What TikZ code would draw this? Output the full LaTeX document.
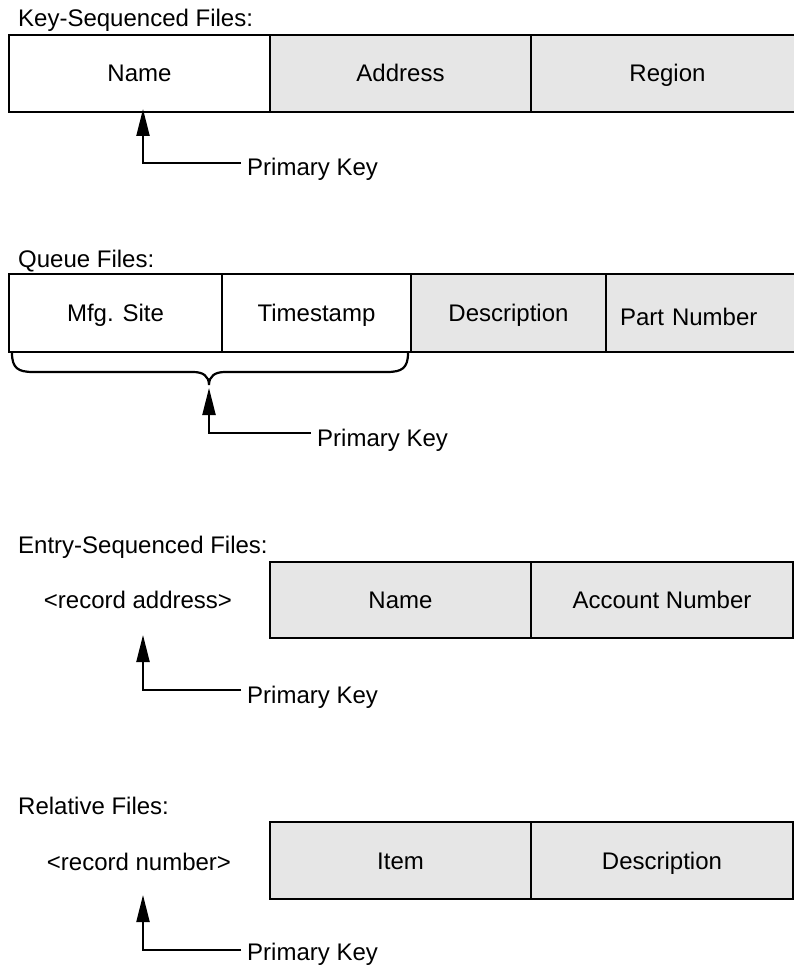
\documentclass[tikz,border=0pt]{standalone}
\usepackage{fontspec}
\setmainfont{Liberation Sans}
\usetikzlibrary{arrows.meta}
\definecolor{cellgray}{HTML}{E6E6E6}
\tikzset{
  x=1pt, y=-1pt,
  every node/.style={font=\fontsize{24}{28}\selectfont},
  cell/.style={draw, line width=2.2pt, inner sep=0pt, outer sep=0pt,
    anchor=north west, text height=17pt, text depth=0pt},
  keycell/.style={cell, fill=white},
  datacell/.style={cell, fill=cellgray},
  caption/.style={anchor=base west, inner sep=0pt},
  recid/.style={anchor=base, inner sep=0pt},
  keylabel/.style={anchor=base west, inner sep=0pt},
  keyarrow/.style={line width=2.2pt, shorten <=6pt,
    -{Triangle[length=27pt,width=13pt]}},
  brace/.style={line width=2.2pt, line cap=round}
}
\begin{document}
\begin{tikzpicture}
\useasboundingbox (0,0) rectangle (793,968);

% ---- Key-sequenced files ----
\node[caption] (kstitle) at (18,27) {Key-Sequenced Files:};
\node[keycell,  minimum width=261pt, minimum height=77pt] (ks1) at (9,35) {Name};
\node[datacell, minimum width=261pt, minimum height=77pt] (ks2) at (270,35) {Address};
\node[datacell, minimum width=273pt, minimum height=77pt] (ks3) at (531,35) {Region};
\coordinate (kstip) at (143,109);
\coordinate (ksbend) at (143,163);
\node[keylabel] (kskey) at (247,176) {Primary Key};
\draw[keyarrow] (kskey.west |- ksbend) -- (ksbend) -- (kstip);

% ---- Queue files ----
\node[caption] (qtitle) at (18,267) {Queue Files:};
\node[keycell,  minimum width=213pt, minimum height=78pt] (q1) at (9,274) {Mfg. Site};
\node[keycell,  minimum width=189pt, minimum height=78pt] (q2) at (222,274) {Timestamp};
\node[datacell, minimum width=195pt, minimum height=78pt] (q3) at (411,274) {Description};
\node[datacell, minimum height=78pt, text width=172pt, align=left,
      inner xsep=14pt] (q4) at (606,274) {\raisebox{-3.5pt}{Part Number}};
\draw[brace] (12,353) .. controls (12,368) and (18,372) .. (33,372)
  -- (193,372) .. controls (203,372) and (209,376) .. (209,385)
  .. controls (209,376) and (215,372) .. (225,372)
  -- (387,372) .. controls (402,372) and (408,368) .. (408,353);
\coordinate (qtip) at (209,388);
\coordinate (qbend) at (209,433);
\node[keylabel] (qkey) at (317,446) {Primary Key};
\draw[keyarrow] (qkey.west |- qbend) -- (qbend) -- (qtip);

% ---- Entry-sequenced files ----
\node[caption] (estitle) at (18,553) {Entry-Sequenced Files:};
\node[recid] (esaddr) at (138,608) {<record address>};
\node[datacell, minimum width=261pt, minimum height=76pt] (es1) at (270,562) {Name};
\node[datacell, minimum width=262pt, minimum height=76pt] (es2) at (531,562) {Account Number};
\coordinate (estip) at (143,635);
\coordinate (esbend) at (143,690);
\node[keylabel] (eskey) at (247,703) {Primary Key};
\draw[keyarrow] (eskey.west |- esbend) -- (esbend) -- (estip);

% ---- Relative files ----
\node[caption] (rtitle) at (18,814) {Relative Files:};
\node[recid] (rnum) at (139,870) {<record number>};
\node[datacell, minimum width=261pt, minimum height=77pt] (r1) at (270,822) {Item};
\node[datacell, minimum width=262pt, minimum height=77pt] (r2) at (531,822) {Description};
\coordinate (rtip) at (143,895);
\coordinate (rbend) at (143,950);
\node[keylabel] (rkey) at (247,960) {Primary Key};
\draw[keyarrow] (rkey.west |- rbend) -- (rbend) -- (rtip);
\end{tikzpicture}
\end{document}
